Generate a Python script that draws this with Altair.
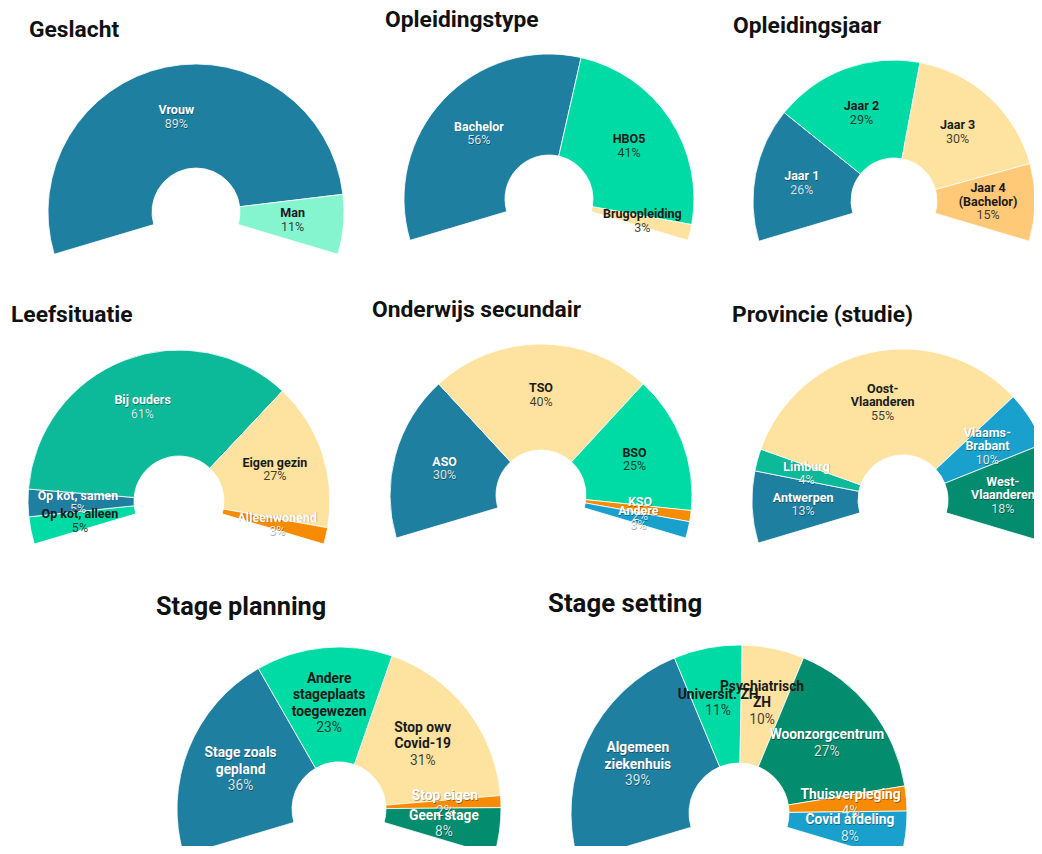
import altair as alt
import pandas as pd

# ---------------- data ----------------
titles = ["Geslacht", "Opleidingstype", "Opleidingsjaar", "Leefsituatie",
          "Onderwijs secundair", "Provincie (studie)", "Stage planning", "Stage setting"]

geslacht_cats = ["Vrouw", "Man"]
geslacht_vals = [89, 11]

opltype_cats = ["Bachelor", "HBO5", "Brugopleiding"]
opltype_vals = [56, 41, 3]

opljaar_cats = ["Jaar 1", "Jaar 2", "Jaar 3", "Jaar 4\n(Bachelor)"]
opljaar_vals = [26, 29, 30, 15]

leef_cats = ["Op kot, alleen", "Op kot, samen", "Bij ouders", "Eigen gezin", "Alleenwonend"]
leef_vals = [5, 5, 61, 27, 3]

onderwijs_cats = ["ASO", "TSO", "BSO", "KSO", "Andere"]
onderwijs_vals = [30, 40, 25, 2, 3]

provincie_cats = ["Antwerpen", "Limburg", "Oost-\nVlaanderen", "Vlaams-\nBrabant", "West-\nVlaanderen"]
provincie_vals = [13, 4, 55, 10, 18]

planning_cats = ["Stage zoals\ngepland", "Andere\nstageplaats\ntoegewezen", "Stop owv\nCovid-19",
                 "Stop eigen", "Geen stage"]
planning_vals = [36, 23, 31, 2, 8]

setting_cats = ["Algemeen\nziekenhuis", "Universit. ZH", "Psychiatrisch\nZH", "Woonzorgcentrum",
                "Thuisverpleging", "Covid afdeling"]
setting_vals = [39, 11, 10, 27, 4, 8]

# ---------------- styles ----------------
DB = "#1e7fa0"
MINT = "#84f5ce"
GREEN = "#00dba6"
YELLOW = "#fee29f"
LORANGE = "#ffc978"
TEAL = "#0cb999"
ORANGE = "#f78b04"
BLUE = "#1aa0cd"
DKGREEN = "#038c6e"
WHITE_T = "#ffffff"
DARK_T = "#1a1a1a"
TEXT_FOR = {DB: WHITE_T, MINT: DARK_T, GREEN: DARK_T, YELLOW: DARK_T, LORANGE: DARK_T,
            TEAL: WHITE_T, ORANGE: WHITE_T, BLUE: WHITE_T, DKGREEN: WHITE_T}

OFF = 8           # page margin
SPAN = 1.86       # half angular span (radians)
FONT = "Roboto"


def donut(cats, vals, cols, cx, cy, R, r, lr, fs, lh):
    nlines = [c.count("\n") + 1 for c in cats]
    df = pd.DataFrame({
        "cat": cats,
        "value": vals,
        "idx": list(range(len(cats))),
        "n": nlines,
        "pct": [f"{v}%" for v in vals],
    })
    total = sum(vals)
    tscale = alt.Scale(domain=[0, total], range=[-SPAN, SPAN])
    px, py = alt.value(cx - OFF), alt.value(cy - OFF)

    arc = alt.Chart(df).mark_arc(radius=R, radius2=r, stroke="white", strokeWidth=0.8).encode(
        theta=alt.Theta("value:Q", stack=True, scale=tscale),
        order=alt.Order("idx:Q"),
        color=alt.Color("cat:N", scale=alt.Scale(domain=cats, range=cols), legend=None),
        x=px, y=py,
    )

    src = alt.Chart(df).transform_window(
        cum="sum(value)", sort=[alt.SortField("idx")]
    ).transform_calculate(mid="datum.cum - datum.value / 2")
    theta = alt.Theta("mid:Q", scale=tscale)
    fill = alt.Fill("cat:N", scale=alt.Scale(domain=cats, range=[TEXT_FOR[c] for c in cols]),
                    legend=None)
    white_cats = [c for c, col in zip(cats, cols) if TEXT_FOR[col] == WHITE_T]
    common = dict(radius=lr, font=FONT, fontSize=fs, lineBreak="\n", lineHeight=lh,
                  baseline="middle", align="center")

    shadows, texts = [], []
    for k in sorted(set(nlines)):
        sub = src.transform_filter(alt.datum.n == k)
        if any(nlines[i] == k and cats[i] in white_cats for i in range(len(cats))):
            sh = sub.transform_filter(alt.FieldOneOfPredicate(field="cat", oneOf=white_cats))
            shadows.append(sh.mark_text(dx=0.6, dy=-k * lh / 2 + 0.8, fontWeight="bold",
                                        color="#000000", opacity=0.35, **common).encode(
                text="cat:N", theta=theta, x=px, y=py))
            shadows.append(sh.mark_text(dx=0.6, dy=k * lh / 2 + 0.8,
                                        color="#000000", opacity=0.35, **common).encode(
                text="pct:N", theta=theta, x=px, y=py))
        texts.append(sub.mark_text(dy=k * lh / 2, fillOpacity=0.85, **common).encode(
            text="pct:N", fill=fill, theta=theta, x=px, y=py))
        texts.append(sub.mark_text(dy=-k * lh / 2, fontWeight="bold", **common).encode(
            text="cat:N", fill=fill, theta=theta, x=px, y=py))
    return alt.layer(arc, *shadows, *texts)


def title(t, x, y, fs):
    return alt.Chart(pd.DataFrame({"t": [t]})).mark_text(
        align="left", baseline="alphabetic", font=FONT, fontSize=fs, fontWeight="bold",
        color="#111111").encode(text="t:N", x=alt.value(x - OFF), y=alt.value(y - OFF))


FS1, LH1 = 12.5, 13.5
FS3, LH3 = 13.8, 16.5
charts = [
    donut(geslacht_cats, geslacht_vals, [DB, MINT], 196, 212, 148, 44, 97, FS1, LH1),
    donut(opltype_cats, opltype_vals, [DB, GREEN, YELLOW], 549, 199, 145, 44, 96, FS1, LH1),
    donut(opljaar_cats, opljaar_vals, [DB, GREEN, YELLOW, LORANGE], 894, 201, 141, 43, 94, FS1, LH1),
    donut(leef_cats, leef_vals, [GREEN, DB, TEAL, YELLOW, ORANGE], 179, 501, 151, 45, 101, FS1, LH1),
    donut(onderwijs_cats, onderwijs_vals, [DB, YELLOW, GREEN, ORANGE, BLUE], 541, 495, 151, 45, 100, FS1, LH1),
    donut(provincie_cats, provincie_vals, [DB, TEAL, YELLOW, BLUE, DKGREEN], 903, 500, 151, 45, 100, FS1, LH1),
    donut(planning_cats, planning_vals, [DB, GREEN, YELLOW, ORANGE, DKGREEN], 339, 809, 162, 47, 106, FS3, LH3),
    donut(setting_cats, setting_vals, [DB, GREEN, YELLOW, DKGREEN, ORANGE, BLUE], 739, 813, 168, 50, 112, FS3, LH3),
]

title_pos = [(29, 37, 22.8), (385, 27, 22.8), (733, 33, 22.8), (11, 322, 22.8),
             (372, 317, 22.8), (732, 322, 22.8), (156, 615, 25.3), (548, 612, 25.8)]
title_layers = [title(t, x, y, fs) for t, (x, y, fs) in zip(titles, title_pos)]

chart = alt.layer(*charts, *title_layers).resolve_scale(
    theta="independent", color="independent", fill="independent"
).properties(
    width=1026, height=838, autosize=alt.AutoSizeParams(type="none"), padding=0
).configure_view(stroke=None)

chart.save("out.html", embed_options={"renderer": "svg", "actions": False})
